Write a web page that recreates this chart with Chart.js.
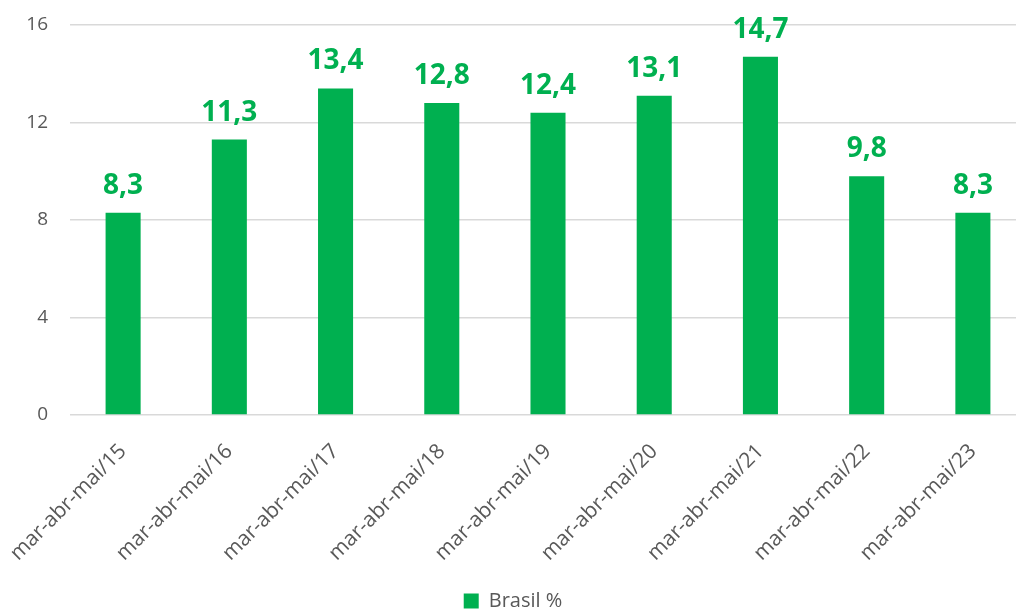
<!DOCTYPE html>
<html lang="pt-BR">
<head>
<meta charset="UTF-8">
<script src="https://cdn.jsdelivr.net/npm/chart.js"></script>
<title>Brasil %</title>
<style>
    html, body { margin: 0; padding: 0; background: #fff; overflow: hidden; }
    .box { width: 1026px; height: 621px; }
</style>
</head>
<body>
<div class="box"><canvas id="grafico"></canvas></div>
<script>
    var periodos = ['mar-abr-mai/15', 'mar-abr-mai/16', 'mar-abr-mai/17', 'mar-abr-mai/18', 'mar-abr-mai/19',
        'mar-abr-mai/20', 'mar-abr-mai/21', 'mar-abr-mai/22', 'mar-abr-mai/23']
    var brasil = [8.3, 11.3, 13.4, 12.8, 12.4, 13.1, 14.7, 9.8, 8.3]
    var ticksY = [0, 4, 8, 12, 16]

    var verde = '#00B050'
    var cinza = '#595959'
    var fonte = "'Open Sans', 'Noto Sans', sans-serif"

    // rotulos em cima das barras
    var rotulos = {
        id: 'rotulos',
        afterDatasetsDraw(chart) {
            var ctx = chart.ctx
            var meta = chart.getDatasetMeta(0)
            ctx.save()
            ctx.fillStyle = verde
            ctx.font = 'bold 28px ' + fonte
            ctx.textAlign = 'center'
            ctx.textBaseline = 'alphabetic'
            meta.data.forEach(function (bar, i) {
                ctx.fillText(brasil[i].toFixed(1).replace('.', ','), bar.x, bar.y - 19)
            })
            ctx.restore()
        }
    }

    new Chart(document.getElementById('grafico'), {
        type: 'bar',
        data: {
            labels: periodos,
            datasets: [{
                label: 'Brasil %',
                data: brasil,
                backgroundColor: verde,
                borderWidth: 0,
                categoryPercentage: 1,
                barPercentage: 0.33
            }]
        },
        options: {
            responsive: true,
            maintainAspectRatio: false,
            animation: false,
            layout: { padding: { top: 25, left: 0, right: 0, bottom: 0 } },
            plugins: {
                tooltip: { enabled: false },
                legend: {
                    position: 'bottom',
                    labels: {
                        color: cinza,
                        font: { family: fonte, size: 20 },
                        boxWidth: 15,
                        boxHeight: 15,
                        padding: 4
                    }
                }
            },
            scales: {
                x: {
                    grid: { display: false, drawTicks: false },
                    border: { display: false },
                    afterFit: function (scale) {
                        scale.height = 172
                        scale.paddingLeft = 0
                        scale.paddingRight = 0
                    },
                    ticks: {
                        color: cinza,
                        font: { family: fonte, size: 21 },
                        minRotation: 45,
                        maxRotation: 45,
                        padding: 24
                    }
                },
                y: {
                    min: 0,
                    max: 16,
                    afterBuildTicks: function (scale) {
                        scale.ticks = ticksY.map(function (v) { return { value: v } })
                    },
                    afterFit: function (scale) {
                        scale.width = 70
                        scale.paddingTop = 0
                        scale.paddingBottom = 0
                    },
                    grid: { color: '#D9D9D9', lineWidth: 1.5, drawTicks: false },
                    border: { display: false },
                    ticks: {
                        color: cinza,
                        font: { family: fonte, size: 19 },
                        padding: 22
                    }
                }
            }
        },
        plugins: [rotulos]
    })
</script>
</body>
</html>
